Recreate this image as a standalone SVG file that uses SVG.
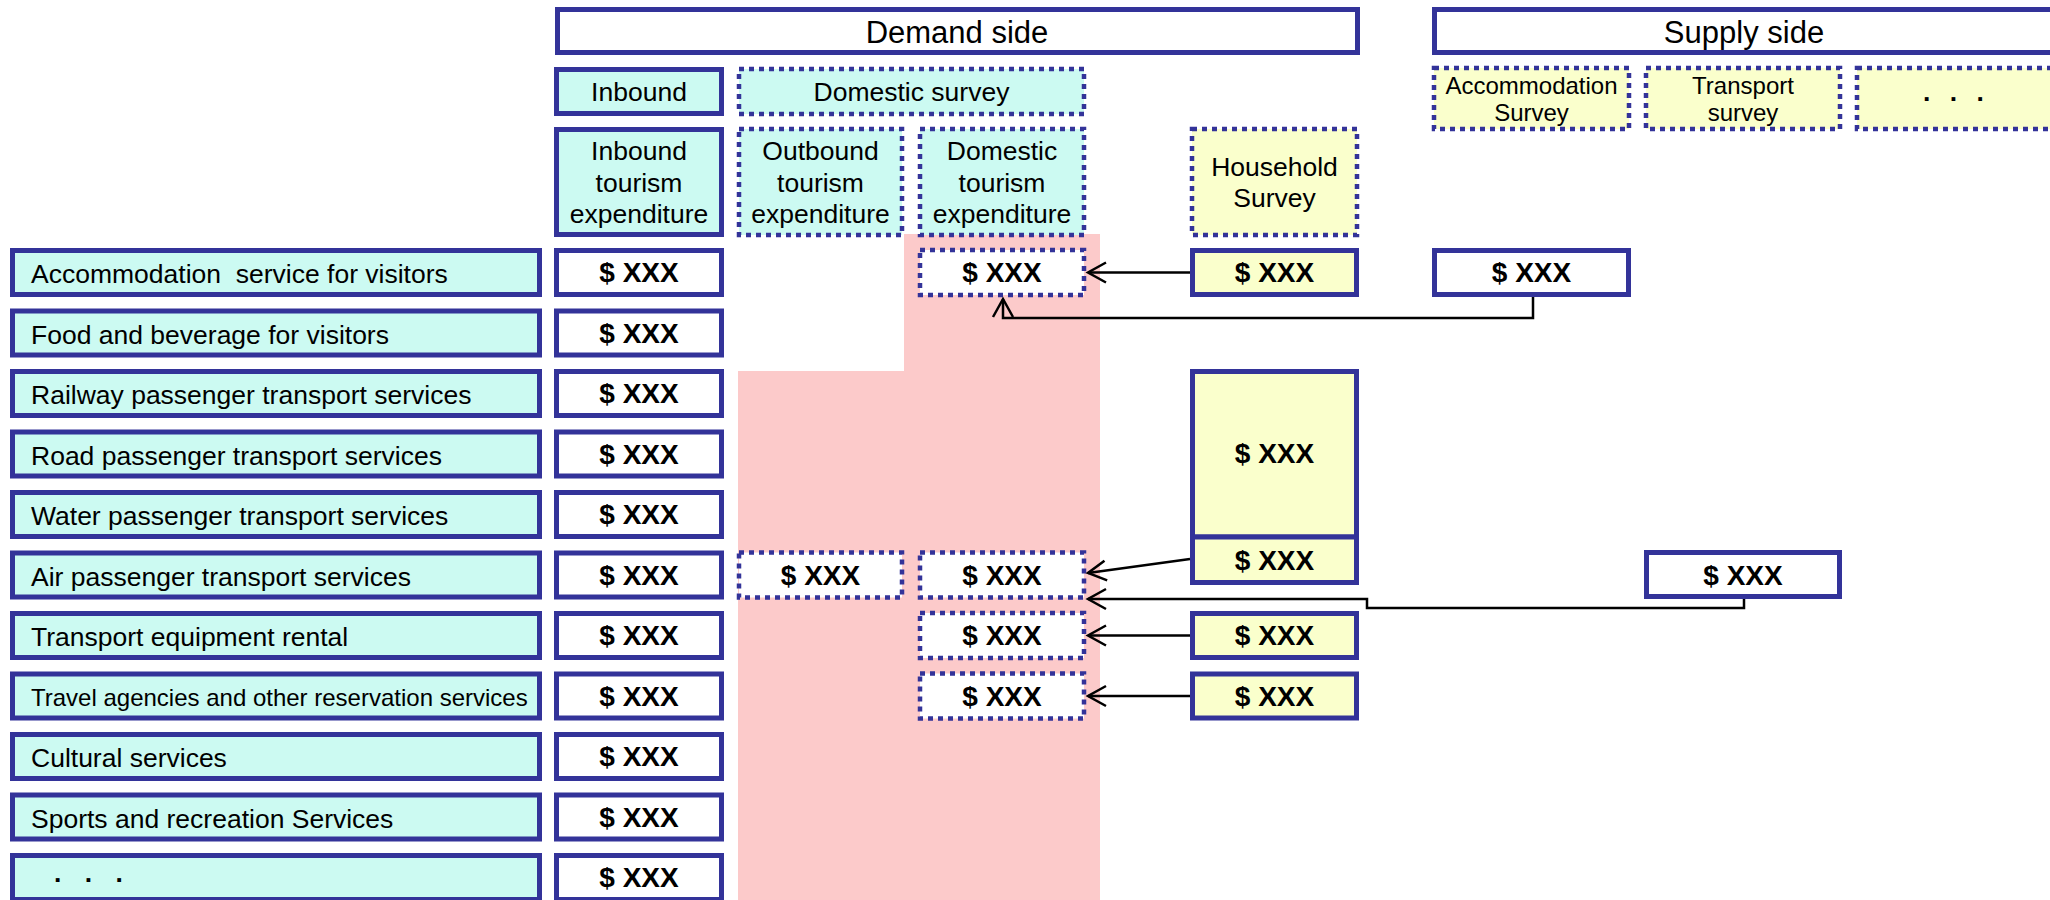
<svg xmlns="http://www.w3.org/2000/svg" width="2050" height="900" viewBox="0 0 2050 900">
<style>
.s{stroke:#333399;stroke-width:5}
.d{stroke:#333399;stroke-width:4.5;stroke-dasharray:5 5}
.c{fill:#CCFAF2}
.y{fill:#FAFFCC}
.w{fill:#FFFFFF}
text{font-family:"Liberation Sans",Arial,sans-serif;fill:#000}
.t{font-size:26.5px}
.m{text-anchor:middle}
.b{font-size:28px;font-weight:bold;text-anchor:middle}
.h{font-size:31px;text-anchor:middle}
.sm{font-size:24px;text-anchor:middle}
.dots{font-size:26.5px;font-weight:bold}
.con{fill:none;stroke:#000;stroke-width:2.5}
</style>
<defs>
<marker id="arr" markerUnits="userSpaceOnUse" markerWidth="24" markerHeight="26" viewBox="-21 -13 24 26" refX="0" refY="0" orient="auto">
<path d="M-18,-10 L0,0 L-18,10" fill="none" stroke="#000" stroke-width="2.5"/>
</marker>
</defs>
<polygon points="904,234 1100,234 1100,900 738,900 738,371 904,371" fill="#FCCACA"/>
<g id="demand-side"><rect class="s w" x="557.5" y="9.5" width="800" height="43"/><text class="h" x="957" y="43">Demand side</text></g>
<g id="supply-side"><rect class="s w" x="1434.5" y="9.5" width="620" height="43"/><text class="h" x="1744" y="43">Supply side</text></g>
<g id="inbound"><rect class="s c" x="556.5" y="69.5" width="165" height="44"/><text class="t m" x="639" y="100.5">Inbound</text></g>
<g id="domestic-survey"><rect class="d c" x="739" y="69" width="345" height="45"/><text class="t m" x="911.5" y="100.5">Domestic survey</text></g>
<g id="inbound-exp"><rect class="s c" x="556.5" y="129.5" width="165" height="105"/><text class="t m" x="639" y="160">Inbound</text><text class="t m" x="639" y="191.5">tourism</text><text class="t m" x="639" y="223">expenditure</text></g>
<g id="outbound-exp"><rect class="d c" x="739" y="129" width="163" height="106"/><text class="t m" x="820.5" y="160">Outbound</text><text class="t m" x="820.5" y="191.5">tourism</text><text class="t m" x="820.5" y="223">expenditure</text></g>
<g id="domestic-exp"><rect class="d c" x="920" y="129" width="164" height="106"/><text class="t m" x="1002" y="160">Domestic</text><text class="t m" x="1002" y="191.5">tourism</text><text class="t m" x="1002" y="223">expenditure</text></g>
<g id="household-survey"><rect class="d y" x="1192" y="129" width="165" height="106"/><text class="t m" x="1274.5" y="176">Household</text><text class="t m" x="1274.5" y="207">Survey</text></g>
<g id="accommodation-survey"><rect class="d y" x="1434" y="68" width="195" height="61"/><text class="sm" x="1531.5" y="94">Accommodation</text><text class="sm" x="1531.5" y="121">Survey</text></g>
<g id="transport-survey"><rect class="d y" x="1646" y="68" width="194" height="61"/><text class="sm" x="1743" y="94">Transport</text><text class="sm" x="1743" y="121">survey</text></g>
<g id="other-survey"><rect class="d y" x="1857" y="68" width="200" height="61"/><text class="dots" x="1923" y="101" style="letter-spacing:6px">. . .</text></g>

<g id="row-accommodation"><rect class="s c" x="12.5" y="250.5" width="527" height="44"/><text class="t" x="31" y="283" xml:space="preserve">Accommodation  service for visitors</text><rect class="s w" x="556.5" y="250.5" width="165" height="44"/><text class="b" x="639" y="282">$ XXX</text></g>
<g id="row-food"><rect class="s c" x="12.5" y="311" width="527" height="44"/><text class="t" x="31" y="343.5">Food and beverage for visitors</text><rect class="s w" x="556.5" y="311" width="165" height="44"/><text class="b" x="639" y="342.5">$ XXX</text></g>
<g id="row-railway"><rect class="s c" x="12.5" y="371.5" width="527" height="44"/><text class="t" x="31" y="404">Railway passenger transport services</text><rect class="s w" x="556.5" y="371.5" width="165" height="44"/><text class="b" x="639" y="403">$ XXX</text></g>
<g id="row-road"><rect class="s c" x="12.5" y="432" width="527" height="44"/><text class="t" x="31" y="464.5">Road passenger transport services</text><rect class="s w" x="556.5" y="432" width="165" height="44"/><text class="b" x="639" y="463.5">$ XXX</text></g>
<g id="row-water"><rect class="s c" x="12.5" y="492.5" width="527" height="44"/><text class="t" x="31" y="525">Water passenger transport services</text><rect class="s w" x="556.5" y="492.5" width="165" height="44"/><text class="b" x="639" y="524">$ XXX</text></g>
<g id="row-air"><rect class="s c" x="12.5" y="553" width="527" height="44"/><text class="t" x="31" y="585.5">Air passenger transport services</text><rect class="s w" x="556.5" y="553" width="165" height="44"/><text class="b" x="639" y="584.5">$ XXX</text></g>
<g id="row-rental"><rect class="s c" x="12.5" y="613.5" width="527" height="44"/><text class="t" x="31" y="646">Transport equipment rental</text><rect class="s w" x="556.5" y="613.5" width="165" height="44"/><text class="b" x="639" y="645">$ XXX</text></g>
<g id="row-travel"><rect class="s c" x="12.5" y="674" width="527" height="44"/><text x="31" y="705.5" style="font-size:24px">Travel agencies and other reservation services</text><rect class="s w" x="556.5" y="674" width="165" height="44"/><text class="b" x="639" y="705.5">$ XXX</text></g>
<g id="row-cultural"><rect class="s c" x="12.5" y="734.5" width="527" height="44"/><text class="t" x="31" y="767">Cultural services</text><rect class="s w" x="556.5" y="734.5" width="165" height="44"/><text class="b" x="639" y="766">$ XXX</text></g>
<g id="row-sports"><rect class="s c" x="12.5" y="795" width="527" height="44"/><text class="t" x="31" y="827.5">Sports and recreation Services</text><rect class="s w" x="556.5" y="795" width="165" height="44"/><text class="b" x="639" y="826.5">$ XXX</text></g>
<g id="row-more"><rect class="s c" x="12.5" y="855.5" width="527" height="44"/><text class="dots" x="54" y="882" style="letter-spacing:8px">. . .</text><rect class="s w" x="556.5" y="855.5" width="165" height="44"/><text class="b" x="639" y="887">$ XXX</text></g>

<g id="dom-accommodation"><rect class="d w" x="920" y="250" width="164" height="45"/><text class="b" x="1002" y="282">$ XXX</text></g>
<g id="out-air"><rect class="d w" x="739" y="552.5" width="163" height="45"/><text class="b" x="820.5" y="584.5">$ XXX</text></g>
<g id="dom-air"><rect class="d w" x="920" y="552.5" width="164" height="45"/><text class="b" x="1002" y="584.5">$ XXX</text></g>
<g id="dom-rental"><rect class="d w" x="920" y="613" width="164" height="45"/><text class="b" x="1002" y="645">$ XXX</text></g>
<g id="dom-travel"><rect class="d w" x="920" y="673.5" width="164" height="45"/><text class="b" x="1002" y="705.5">$ XXX</text></g>

<g id="hh-accommodation"><rect class="s y" x="1192.5" y="250.5" width="164" height="44"/><text class="b" x="1274.5" y="282">$ XXX</text></g>
<g id="hh-transport"><rect class="s y" x="1192.5" y="371.5" width="164" height="165.5"/><text class="b" x="1274.5" y="463">$ XXX</text></g>
<g id="hh-air"><rect class="s y" x="1192.5" y="537" width="164" height="45.5"/><text class="b" x="1274.5" y="570">$ XXX</text></g>
<g id="hh-rental"><rect class="s y" x="1192.5" y="613.5" width="164" height="44"/><text class="b" x="1274.5" y="645">$ XXX</text></g>
<g id="hh-travel"><rect class="s y" x="1192.5" y="674" width="164" height="44"/><text class="b" x="1274.5" y="705.5">$ XXX</text></g>

<g id="sup-accommodation"><rect class="s w" x="1434.5" y="250.5" width="194" height="44"/><text class="b" x="1531.5" y="282">$ XXX</text></g>
<g id="sup-air"><rect class="s w" x="1646.5" y="552.5" width="193" height="44"/><text class="b" x="1743" y="584.5">$ XXX</text></g>

<g id="connectors">
<path class="con" d="M1190,272.5 H1088" marker-end="url(#arr)"/>
<path class="con" d="M1533,297 V318 H1003 V299" marker-end="url(#arr)"/>
<path class="con" d="M1190,559 L1088,573" marker-end="url(#arr)"/>
<path class="con" d="M1744,599 V608 H1367 V599 H1088" marker-end="url(#arr)"/>
<path class="con" d="M1190,635.5 H1088" marker-end="url(#arr)"/>
<path class="con" d="M1190,696 H1088" marker-end="url(#arr)"/>
</g>
</svg>
